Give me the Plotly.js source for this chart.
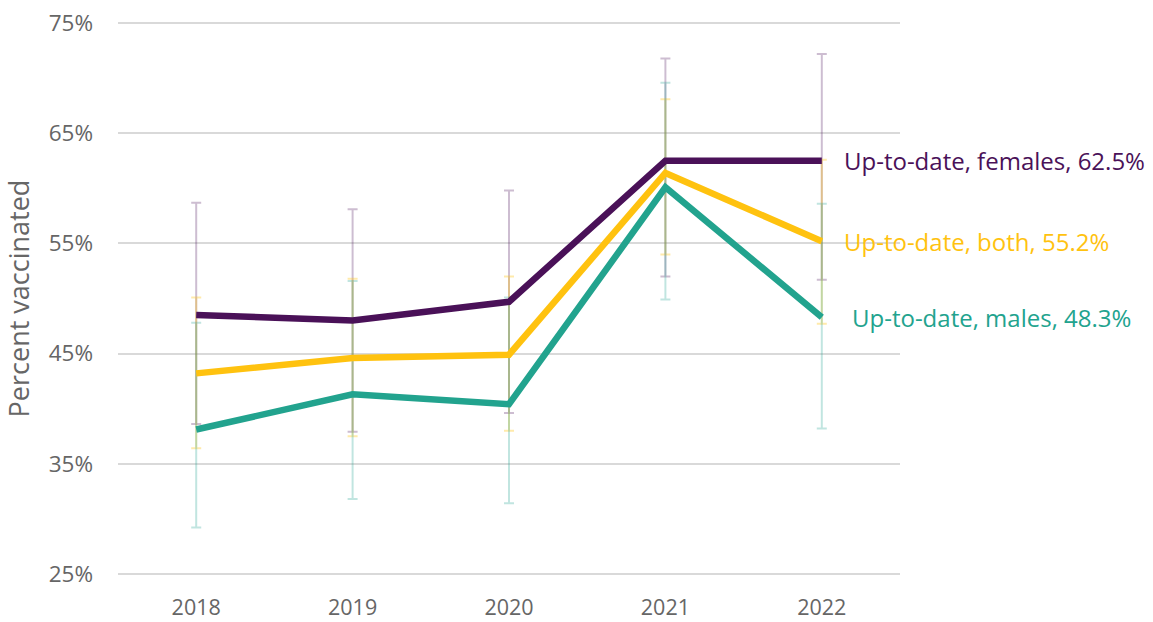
<!DOCTYPE html>
<html>
<head>
<meta charset="utf-8">
<script src="https://cdn.plot.ly/plotly-3.0.1.min.js"></script>
<style>html,body{margin:0;padding:0;background:#fff;}#chart{width:1153px;height:622px;}</style>
</head>
<body>
<div id="chart"></div>
<script>
const years = ['2018', '2019', '2020', '2021', '2022'];

const females = [48.5, 48.0, 49.7, 62.5, 62.5];
const femalesHigh = [58.7, 58.1, 59.8, 71.8, 72.2];
const femalesLow = [38.6, 37.9, 39.6, 52.0, 51.7];

const both = [43.2, 44.6, 44.9, 61.4, 55.2];
const bothHigh = [50.1, 51.8, 52.0, 68.1, 62.6];
const bothLow = [36.4, 37.5, 38.0, 54.0, 47.7];

const males = [38.1, 41.3, 40.4, 60.1, 48.3];
const malesHigh = [47.8, 51.6, 50.1, 69.6, 58.6];
const malesLow = [29.2, 31.8, 31.4, 49.9, 38.2];

const yTicks = [25, 35, 45, 55, 65, 75];
const yTickText = ['25%', '35%', '45%', '55%', '65%', '75%'];

const labels = ['Up-to-date, females, 62.5%', 'Up-to-date, both, 55.2%', 'Up-to-date, males, 48.3%'];

const purple = '#4a1158';
const yellow = '#ffc20f';
const teal = '#22a38e';

function errTrace(vals, hi, lo, color) {
  return {
    x: years, y: vals, type: 'scatter', mode: 'lines',
    line: {color: 'rgba(0,0,0,0)', width: 0},
    error_y: {
      type: 'data', symmetric: false,
      array: hi.map((h, i) => h - vals[i]),
      arrayminus: lo.map((l, i) => vals[i] - l),
      color: color, thickness: 2, width: 5
    },
    hoverinfo: 'skip', showlegend: false
  };
}
function lineTrace(vals, color) {
  return {
    x: years, y: vals, type: 'scatter', mode: 'lines',
    line: {color: color, width: 6.5},
    showlegend: false
  };
}

const data = [
  errTrace(females, femalesHigh, femalesLow, 'rgba(74,17,88,0.28)'),
  errTrace(both, bothHigh, bothLow, 'rgba(255,194,15,0.35)'),
  errTrace(males, malesHigh, malesLow, 'rgba(34,163,142,0.28)'),
  lineTrace(males, teal),
  lineTrace(both, yellow),
  lineTrace(females, purple)
];

const layout = {
  width: 1153, height: 622,
  margin: {l: 118, r: 253, t: 21, b: 46},
  paper_bgcolor: '#fff', plot_bgcolor: '#fff',
  font: {family: 'Open Sans, sans-serif', color: '#666'},
  xaxis: {
    type: 'category', range: [-0.5, 4.5],
    showgrid: false, zeroline: false, showline: false,
    tickfont: {size: 21.5, color: '#666'},
    ticks: '', ticklabelstandoff: 16
  },
  yaxis: {
    range: [24.8, 75.2], tickvals: yTicks, ticktext: yTickText,
    showgrid: true, gridcolor: '#d9d9d9', gridwidth: 2,
    zeroline: false, showline: false, ticks: '',
    tickfont: {size: 22.5, color: '#666'},
    ticklabelstandoff: 24,
    title: {text: 'Percent vaccinated', font: {size: 27, color: '#666'}, standoff: 12}
  },
  annotations: [
    {x: 4, y: 62.5, xref: 'x', yref: 'y', text: labels[0], showarrow: false, xanchor: 'left', yanchor: 'middle', xshift: 20, font: {size: 24, color: purple, family: 'Open Sans, sans-serif'}},
    {x: 4, y: 55.2, xref: 'x', yref: 'y', text: labels[1], showarrow: false, xanchor: 'left', yanchor: 'middle', xshift: 20, font: {size: 24, color: yellow, family: 'Open Sans, sans-serif'}},
    {x: 4, y: 48.3, xref: 'x', yref: 'y', text: labels[2], showarrow: false, xanchor: 'left', yanchor: 'middle', xshift: 28, font: {size: 24, color: teal, family: 'Open Sans, sans-serif'}}
  ]
};

Plotly.newPlot('chart', data, layout, {displayModeBar: false, staticPlot: true});
</script>
</body>
</html>
